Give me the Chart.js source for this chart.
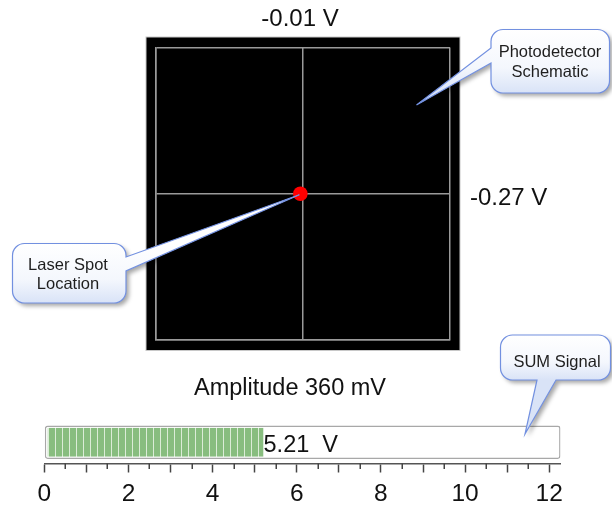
<!DOCTYPE html>
<html><head><meta charset="utf-8">
<script src="https://cdn.jsdelivr.net/npm/chart.js@4.4.1/dist/chart.umd.min.js"></script>
<style>
html,body{margin:0;padding:0;background:#fff;}
#wrap{position:relative;width:612px;height:506px;overflow:hidden;}
#wrap canvas{position:absolute;left:0;top:0;}
</style></head><body>
<div id="wrap"><canvas id="det" width="612" height="506"></canvas><canvas id="gauge" width="612" height="506"></canvas></div>
<script>
// ---- data ----
const xSignalText = '-0.01 V';
const ySignalText = '-0.27 V';
const amplitudeText = 'Amplitude 360 mV';
const spotX = [-0.018];
const spotY = [0];
const sumCategories = ['SUM'];
const sumValues = [5.21];
const sumUnit = 'V';
const gaugeMax = [12.27];
const gaugeTickLabels = ['0', '2', '4', '6', '8', '10', '12'];
const calloutTexts = {
  detector: ['Photodetector', 'Schematic'],
  laser: ['Laser Spot', 'Location'],
  sum: ['SUM Signal']
};

const FONT = '"Liberation Sans", Arial, Helvetica, sans-serif';

// ---- detector chart ----
const detFrame = {
  id: 'detFrame',
  beforeDraw(chart) {
    const {ctx, chartArea: a} = chart;
    ctx.save();
    ctx.fillStyle = '#000';
    ctx.fillRect(a.left - 10, a.top - 10.5, a.right - a.left + 20, a.bottom - a.top + 21);
    ctx.strokeStyle = '#c8c8c8';
    ctx.lineWidth = 1;
    ctx.strokeRect(a.left - 10, a.top - 10.5, a.right - a.left + 20, a.bottom - a.top + 21);
    ctx.restore();
  },
  afterDraw(chart) {
    const {ctx} = chart;
    ctx.save();
    ctx.fillStyle = '#111';
    ctx.font = '24px ' + FONT;
    ctx.textBaseline = 'middle';
    ctx.textAlign = 'center';
    ctx.fillText(xSignalText, 300, 19);
    ctx.textAlign = 'left';
    ctx.fillText(ySignalText, 470, 198);
    ctx.textAlign = 'center';
    ctx.font = '23.5px ' + FONT;
    ctx.fillText(amplitudeText, 290, 389);
    ctx.restore();
  }
};

const detChart = new Chart(document.getElementById('det'), {
  type: 'scatter',
  data: {
    datasets: [{
      data: spotX.map((x, i) => ({x, y: spotY[i]})),
      backgroundColor: '#ff0000',
      borderWidth: 0,
      pointRadius: 7.3,
      pointHoverRadius: 7.3
    }]
  },
  options: {
    responsive: false,
    devicePixelRatio: 1,
    animation: false,
    events: [],
    layout: {padding: {left: 156, right: 162, top: 47.5, bottom: 166}},
    plugins: {legend: {display: false}, tooltip: {enabled: false}},
    scales: {
      x: {
        type: 'linear', min: -1, max: 1,
        ticks: {display: false, stepSize: 1},
        grid: {color: '#9a9a9a', lineWidth: 1.5, drawTicks: false},
        border: {color: '#9a9a9a', width: 1.5}
      },
      y: {
        type: 'linear', min: -1, max: 1,
        ticks: {display: false, stepSize: 1},
        grid: {color: '#9a9a9a', lineWidth: 1.5, drawTicks: false},
        border: {color: '#9a9a9a', width: 1.5}
      }
    }
  },
  plugins: [detFrame]
});

// ---- gauge chart ----
function makeStripePattern() {
  const c = document.createElement('canvas');
  c.width = 7; c.height = 4;
  const g = c.getContext('2d');
  g.fillStyle = '#88bd7f';
  g.fillRect(0, 0, 7, 4);
  g.fillStyle = '#dcecd8';
  g.fillRect(6, 0, 1, 4);
  return g.createPattern(c, 'repeat');
}

function calloutPath(ctx, b, side, p1, p2, tip) {
  const {x, y, w, h, r} = b;
  ctx.beginPath();
  ctx.moveTo(x + r, y);
  ctx.lineTo(x + w - r, y);
  ctx.arcTo(x + w, y, x + w, y + r, r);
  if (side === 'right') { ctx.lineTo(x + w, p1); ctx.lineTo(tip[0], tip[1]); ctx.lineTo(x + w, p2); }
  ctx.lineTo(x + w, y + h - r);
  ctx.arcTo(x + w, y + h, x + w - r, y + h, r);
  if (side === 'bottom') { ctx.lineTo(p2, y + h); ctx.lineTo(tip[0], tip[1]); ctx.lineTo(p1, y + h); }
  ctx.lineTo(x + r, y + h);
  ctx.arcTo(x, y + h, x, y + h - r, r);
  if (side === 'left') { ctx.lineTo(x, p2); ctx.lineTo(tip[0], tip[1]); ctx.lineTo(x, p1); }
  ctx.lineTo(x, y + r);
  ctx.arcTo(x, y, x + r, y, r);
  ctx.closePath();
}

function drawCallout(ctx, c) {
  ctx.save();
  calloutPath(ctx, c.box, c.side, c.p1, c.p2, c.tip);
  ctx.shadowColor = 'rgba(0,0,0,0.35)';
  ctx.shadowBlur = 4;
  ctx.shadowOffsetX = 3;
  ctx.shadowOffsetY = 3;
  ctx.fillStyle = '#fff';
  ctx.fill();
  ctx.shadowColor = 'rgba(0,0,0,0)';
  const grad = ctx.createLinearGradient(0, c.box.y, 0, c.box.y + c.box.h);
  grad.addColorStop(0, '#ffffff');
  grad.addColorStop(0.6, '#f4f7fd');
  grad.addColorStop(1, '#d9e3f7');
  ctx.fillStyle = grad;
  ctx.fill();
  ctx.strokeStyle = '#7290e0';
  ctx.lineWidth = 1.2;
  ctx.stroke();
  ctx.fillStyle = '#1e1e1e';
  ctx.font = '16.5px ' + FONT;
  ctx.textAlign = 'center';
  ctx.textBaseline = 'middle';
  c.lines.forEach((t, i) => ctx.fillText(t, c.tx, c.ty + i * c.lh));
  ctx.restore();
}

const gaugeExtras = {
  id: 'gaugeExtras',
  afterDraw(chart) {
    const {ctx, chartArea: a} = chart;
    const xs = chart.scales.x;
    const ys = chart.scales.y;
    // minor ticks
    ctx.save();
    ctx.strokeStyle = '#444';
    ctx.lineWidth = 1.5;
    for (let v = 0.5; v < 12; v += 1) {
      const px = Math.round(xs.getPixelForValue(v)) + 0.25;
      ctx.beginPath();
      ctx.moveTo(px, a.bottom);
      ctx.lineTo(px, a.bottom + 5.5);
      ctx.stroke();
    }
    // value label
    const vx = xs.getPixelForValue(sumValues[0]);
    const vy = ys.getPixelForValue(0);
    ctx.fillStyle = '#111';
    ctx.font = '23.5px ' + FONT;
    ctx.textAlign = 'left';
    ctx.textBaseline = 'middle';
    ctx.fillText(sumValues[0].toFixed(2) + '  ' + sumUnit, vx, vy + 3);
    ctx.restore();

    // callouts
    const sx = detChart.scales.x.getPixelForValue(spotX[0]);
    const sy = detChart.scales.y.getPixelForValue(spotY[0]);
    const callouts = [
      {box: {x: 491, y: 29.5, w: 118.5, h: 63.5, r: 12}, side: 'left', p1: 48, p2: 63, tip: [416.5, 105],
       lines: calloutTexts.detector, tx: 550, ty: 52, lh: 20},
      {box: {x: 12.5, y: 243.5, w: 113.5, h: 59.5, r: 12}, side: 'right', p1: 257, p2: 271, tip: [sx - 1, sy + 1],
       lines: calloutTexts.laser, tx: 68, ty: 265, lh: 19},
      {box: {x: 500.5, y: 335, w: 110, h: 45, r: 12}, side: 'bottom', p1: 537, p2: 556, tip: [525, 434],
       lines: calloutTexts.sum, tx: 557, ty: 362, lh: 19}
    ];
    callouts.forEach(c => drawCallout(ctx, c));
  }
};

const gaugeChart = new Chart(document.getElementById('gauge'), {
  type: 'bar',
  data: {
    labels: sumCategories,
    datasets: [
      {
        data: sumValues,
        backgroundColor: makeStripePattern(),
        borderColor: 'rgba(0,0,0,0)',
        borderWidth: {left: 3, right: 0, top: 0, bottom: 0},
        borderSkipped: false,
        barPercentage: 0.685,
        categoryPercentage: 1,
        order: 1
      },
      {
        data: gaugeMax,
        backgroundColor: '#ffffff',
        borderColor: '#a8a8a8',
        borderWidth: 1.5,
        borderRadius: 3,
        borderSkipped: false,
        barPercentage: 0.786,
        categoryPercentage: 1,
        order: 2
      }
    ]
  },
  options: {
    indexAxis: 'y',
    responsive: false,
    devicePixelRatio: 1,
    animation: false,
    events: [],
    layout: {padding: {left: 44.3, right: 51.4, top: 421, bottom: 0}},
    plugins: {legend: {display: false}, tooltip: {enabled: false}},
    datasets: {bar: {grouped: false}},
    scales: {
      x: {
        type: 'linear', min: 0, max: gaugeMax[0], bounds: 'data',
        ticks: {
          stepSize: 1, includeBounds: false, autoSkip: false, maxRotation: 0,
          padding: 13.5, color: '#111',
          font: {family: FONT, size: 24.5, lineHeight: 0.64},
          callback: (v) => {
            if (!Number.isInteger(v)) return null;
            return gaugeTickLabels.includes(String(v)) ? String(v) : '';
          }
        },
        grid: {drawOnChartArea: false, drawTicks: true, tickLength: 9, tickColor: '#444', tickWidth: 1.5},
        border: {color: '#555', width: 1.5}
      },
      y: {display: false}
    }
  },
  plugins: [gaugeExtras]
});
</script>
</body></html>
